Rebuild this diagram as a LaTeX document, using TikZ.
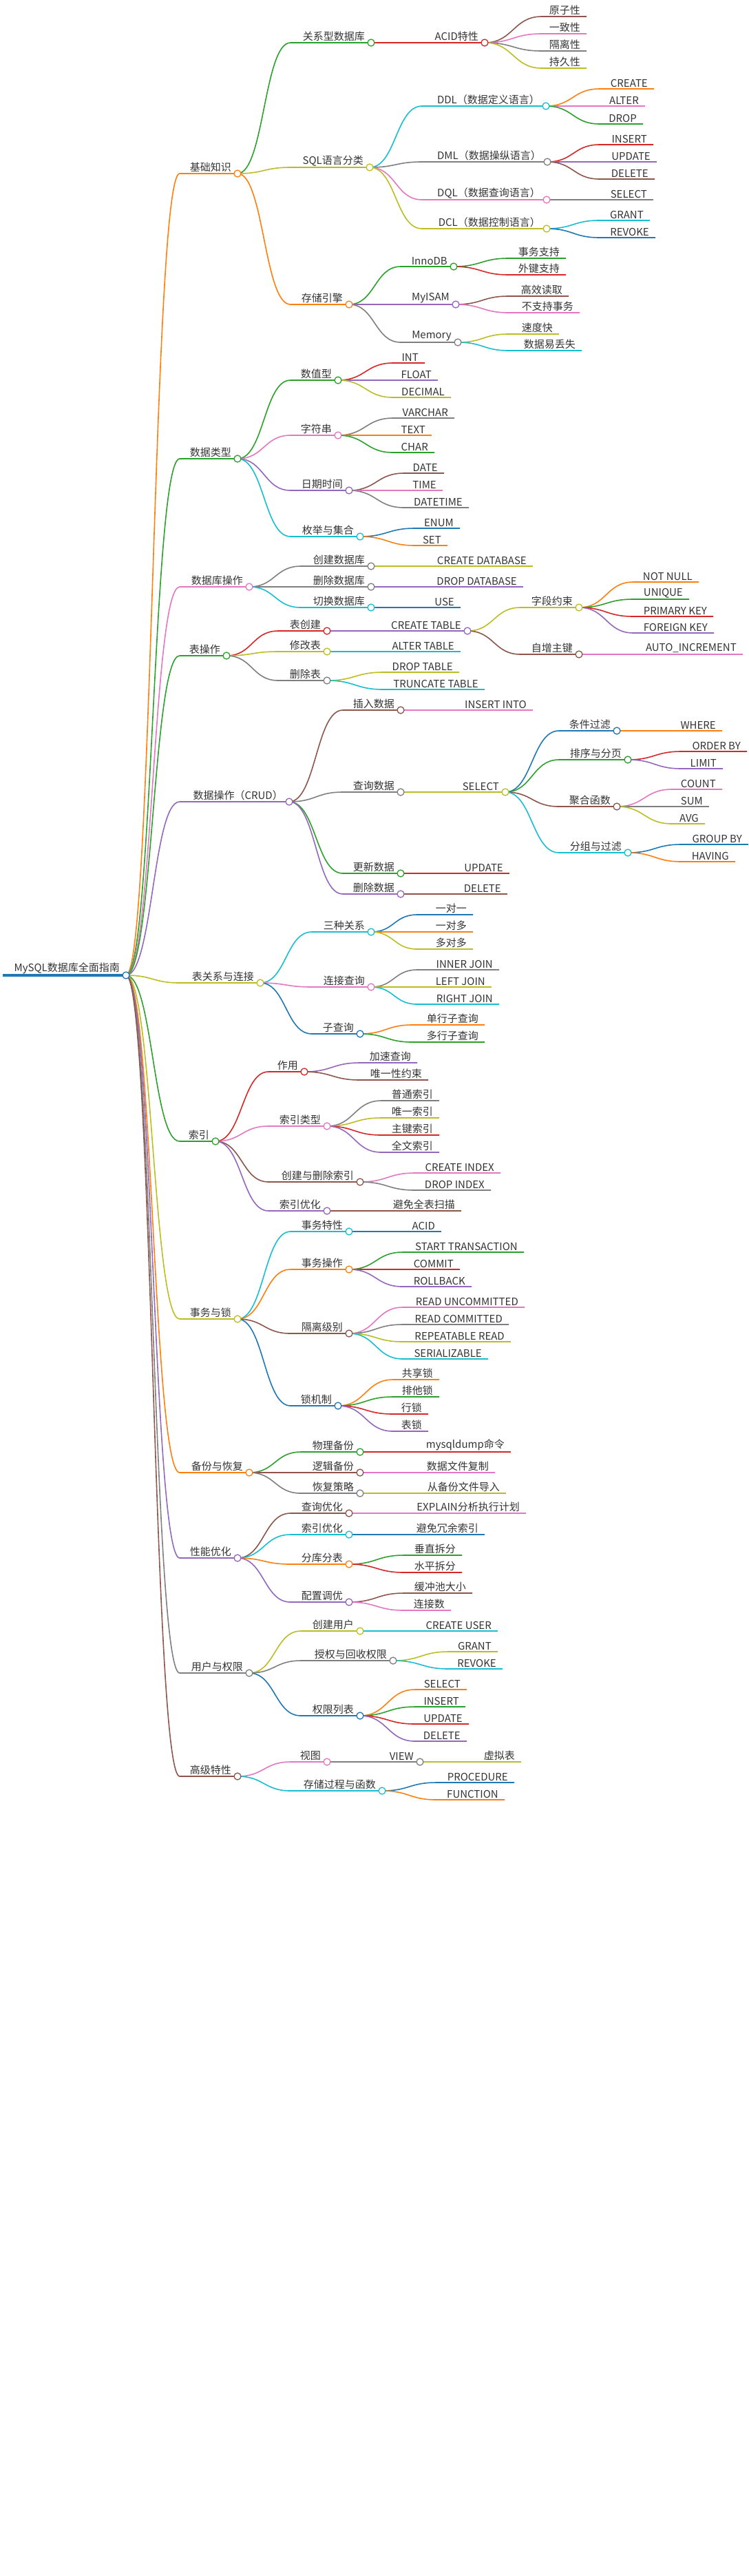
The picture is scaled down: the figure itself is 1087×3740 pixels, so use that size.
\documentclass[tikz,border=0pt]{standalone}
\usepackage{fontspec}
\setmainfont{Noto Sans CJK SC}
\usetikzlibrary{calc}
\pgfdeclarelayer{bg}\pgfsetlayers{bg,main}
\definecolor{cO}{HTML}{FF7F0E}
\definecolor{cG}{HTML}{2CA02C}
\definecolor{cR}{HTML}{D62728}
\definecolor{cP}{HTML}{9467BD}
\definecolor{cBr}{HTML}{8C564B}
\definecolor{cPk}{HTML}{E377C2}
\definecolor{cGr}{HTML}{7F7F7F}
\definecolor{cY}{HTML}{BCBD22}
\definecolor{cC}{HTML}{17BECF}
\definecolor{cB}{HTML}{1F77B4}
\definecolor{txt}{HTML}{333333}
\tikzset{
 edge/.style={line width=1.6pt},
 dot/.style={circle,fill=white,line width=1.3pt,inner sep=0pt,minimum size=10pt},
 lbl/.style={anchor=south east,inner sep=1pt,font=\fontsize{15}{17}\selectfont,text=txt}
}
\newcommand\mmedge[7]{%
 \coordinate (#1s) at (#4,#6); \coordinate (#1) at (#5,#6);
 \begin{pgfonlayer}{bg}
 \draw[edge,#3] let \p1=(#2),\p2=(#1s) in (\p1) .. controls ({0.5*\x1+0.5*\x2},\y1) and ({0.5*\x1+0.5*\x2},\y2) .. (\p2) -- (#1);
 \end{pgfonlayer}
 \node[lbl] (#1t) at ($(#1)+(-8,-1)$) {#7};}
\newcommand\bn[7]{\mmedge{#1}{#2}{#3}{#4}{#5}{#6}{#7}\node[dot,draw=#3] (#1c) at (#1) {};}
\newcommand\lf[7]{\mmedge{#1}{#2}{#3}{#4}{#5}{#6}{#7}}
\begin{document}
\begin{tikzpicture}[x=1pt,y=-1pt]
\useasboundingbox (0,0) rectangle (1087,3740);
\coordinate (root) at (183,1416);
\draw[line width=3.5pt,cB] (4,1416) -- (root);
\node[lbl] (roott) at (175,1415) {MySQL数据库全面指南};
\node[dot,draw=cB] (rootc) at (root) {};
% 基础知识
\bn{a}{root}{cO}{261}{345}{252}{基础知识}
\bn{a1}{a}{cG}{422}{539}{62}{关系型数据库}
\bn{a11}{a1}{cR}{560}{704}{62}{ACID特性}
\lf{a111}{a11}{cBr}{787}{852}{24}{原子性}
\lf{a112}{a11}{cPk}{787}{852}{49}{一致性}
\lf{a113}{a11}{cGr}{787}{852}{74}{隔离性}
\lf{a114}{a11}{cY}{787}{852}{99}{持久性}
\bn{a2}{a}{cY}{422}{537}{243}{SQL语言分类}
\bn{a21}{a2}{cC}{613}{793}{154}{DDL（数据定义语言）}
\lf{a211}{a21}{cO}{871}{950}{129}{CREATE}
\lf{a212}{a21}{cPk}{871}{937}{154}{ALTER}
\lf{a213}{a21}{cG}{871}{934}{180}{DROP}
\bn{a22}{a2}{cGr}{613}{795}{235}{DML（数据操纵语言）}
\lf{a221}{a22}{cR}{871}{949}{210}{INSERT}
\lf{a222}{a22}{cP}{871}{954}{235}{UPDATE}
\lf{a223}{a22}{cBr}{871}{951}{260}{DELETE}
\bn{a23}{a2}{cPk}{613}{794}{290}{DQL（数据查询语言）}
\lf{a231}{a23}{cGr}{871}{949}{290}{SELECT}
\bn{a24}{a2}{cY}{613}{794}{332}{DCL（数据控制语言）}
\lf{a241}{a24}{cC}{871}{944}{320}{GRANT}
\lf{a242}{a24}{cB}{871}{952}{345}{REVOKE}
\bn{a3}{a}{cO}{422}{507}{442}{存储引擎}
\bn{a31}{a3}{cG}{582}{659}{387}{InnoDB}
\lf{a311}{a31}{cG}{739}{822}{375}{事务支持}
\lf{a312}{a31}{cR}{739}{822}{399}{外键支持}
\bn{a32}{a3}{cP}{582}{662}{442}{MyISAM}
\lf{a321}{a32}{cBr}{739}{826}{430}{高效读取}
\lf{a322}{a32}{cPk}{739}{842}{454}{不支持事务}
\bn{a33}{a3}{cGr}{582}{665}{497}{Memory}
\lf{a331}{a33}{cY}{739}{812}{485}{速度快}
\lf{a332}{a33}{cC}{739}{845}{509}{数据易丢失}
% 数据类型
\bn{b}{root}{cG}{261}{345}{666}{数据类型}
\bn{b1}{b}{cG}{422}{491}{552}{数值型}
\lf{b11}{b1}{cR}{571}{617}{527}{INT}
\lf{b12}{b1}{cP}{571}{636}{552}{FLOAT}
\lf{b13}{b1}{cY}{571}{655}{577}{DECIMAL}
\bn{b2}{b}{cPk}{422}{491}{632}{字符串}
\lf{b21}{b2}{cGr}{571}{660}{607}{VARCHAR}
\lf{b22}{b2}{cO}{571}{627}{632}{TEXT}
\lf{b23}{b2}{cG}{571}{631}{657}{CHAR}
\bn{b3}{b}{cP}{422}{507}{712}{日期时间}
\lf{b31}{b3}{cBr}{587}{645}{687}{DATE}
\lf{b32}{b3}{cPk}{587}{643}{712}{TIME}
\lf{b33}{b3}{cGr}{587}{681}{737}{DATETIME}
\bn{b4}{b}{cC}{422}{523}{779}{枚举与集合}
\lf{b41}{b4}{cB}{603}{668}{767}{ENUM}
\lf{b42}{b4}{cO}{603}{650}{792}{SET}
% 数据库操作
\bn{c}{root}{cPk}{261}{362}{852}{数据库操作}
\bn{c1}{c}{cGr}{437}{539}{822}{创建数据库}
\lf{c11}{c1}{cY}{600}{774}{822}{CREATE DATABASE}
\bn{c2}{c}{cGr}{437}{539}{852}{删除数据库}
\lf{c21}{c2}{cP}{600}{760}{852}{DROP DATABASE}
\bn{c3}{c}{cC}{437}{539}{882}{切换数据库}
\lf{c31}{c3}{cB}{600}{669}{882}{USE}
% 表操作
\bn{d}{root}{cG}{261}{329}{952}{表操作}
\bn{d1}{d}{cR}{404}{475}{916}{表创建}
\bn{d11}{d1}{cP}{500}{679}{916}{CREATE TABLE}
\bn{d111}{d11}{cY}{756}{841}{882}{字段约束}
\lf{d1111}{d111}{cO}{920}{1015}{845}{NOT NULL}
\lf{d1112}{d111}{cG}{920}{1001}{870}{UNIQUE}
\lf{d1113}{d111}{cR}{920}{1036}{895}{PRIMARY KEY}
\lf{d1114}{d111}{cP}{920}{1037}{919}{FOREIGN KEY}
\bn{d112}{d11}{cBr}{756}{841}{950}{自增主键}
\lf{d1121}{d112}{cPk}{900}{1079}{950}{AUTO\_INCREMENT}
\bn{d2}{d}{cY}{404}{475}{946}{修改表}
\lf{d21}{d2}{cC}{540}{669}{946}{ALTER TABLE}
\bn{d3}{d}{cGr}{404}{475}{988}{删除表}
\lf{d31}{d3}{cY}{557}{667}{976}{DROP TABLE}
\lf{d32}{d3}{cC}{557}{704}{1001}{TRUNCATE TABLE}
% CRUD
\bn{e}{root}{cP}{261}{420}{1164}{数据操作（CRUD）}
\bn{e1}{e}{cBr}{498}{582}{1031}{插入数据}
\lf{e11}{e1}{cPk}{640}{774}{1031}{INSERT INTO}
\bn{e2}{e}{cGr}{498}{582}{1150}{查询数据}
\bn{e21}{e2}{cY}{620}{734}{1150}{SELECT}
\bn{e211}{e21}{cB}{812}{896}{1061}{条件过滤}
\lf{e2111}{e211}{cO}{950}{1049}{1061}{WHERE}
\bn{e212}{e21}{cG}{812}{912}{1103}{排序与分页}
\lf{e2121}{e212}{cR}{990}{1085}{1091}{ORDER BY}
\lf{e2122}{e212}{cP}{990}{1050}{1116}{LIMIT}
\bn{e213}{e21}{cBr}{812}{896}{1171}{聚合函数}
\lf{e2131}{e213}{cPk}{976}{1049}{1146}{COUNT}
\lf{e2132}{e213}{cGr}{976}{1030}{1171}{SUM}
\lf{e2133}{e213}{cY}{976}{1024}{1196}{AVG}
\bn{e214}{e21}{cC}{812}{912}{1238}{分组与过滤}
\lf{e2141}{e214}{cB}{990}{1087}{1226}{GROUP BY}
\lf{e2142}{e214}{cO}{990}{1068}{1251}{HAVING}
\bn{e3}{e}{cG}{498}{582}{1268}{更新数据}
\lf{e31}{e3}{cR}{640}{740}{1268}{UPDATE}
\bn{e4}{e}{cP}{498}{582}{1298}{删除数据}
\lf{e41}{e4}{cBr}{640}{737}{1298}{DELETE}
% 表关系与连接
\bn{f}{root}{cY}{261}{378}{1427}{表关系与连接}
\bn{f1}{f}{cC}{453}{539}{1353}{三种关系}
\lf{f11}{f1}{cB}{606}{687}{1328}{一对一}
\lf{f12}{f1}{cO}{606}{687}{1353}{一对多}
\lf{f13}{f1}{cY}{606}{687}{1378}{多对多}
\bn{f2}{f}{cPk}{453}{539}{1433}{连接查询}
\lf{f21}{f2}{cGr}{606}{725}{1408}{INNER JOIN}
\lf{f22}{f2}{cY}{606}{714}{1433}{LEFT JOIN}
\lf{f23}{f2}{cC}{606}{725}{1458}{RIGHT JOIN}
\bn{f3}{f}{cB}{453}{523}{1501}{子查询}
\lf{f31}{f3}{cO}{599}{704}{1488}{单行子查询}
\lf{f32}{f3}{cG}{599}{704}{1513}{多行子查询}
% 索引
\bn{g}{root}{cG}{261}{313}{1657}{索引}
\bn{g1}{g}{cR}{390}{442}{1556}{作用}
\lf{g11}{g1}{cP}{523}{606}{1543}{加速查询}
\lf{g12}{g1}{cBr}{523}{622}{1568}{唯一性约束}
\bn{g2}{g}{cPk}{390}{475}{1635}{索引类型}
\lf{g21}{g2}{cGr}{554}{638}{1598}{普通索引}
\lf{g22}{g2}{cY}{554}{638}{1623}{唯一索引}
\lf{g23}{g2}{cR}{554}{638}{1648}{主键索引}
\lf{g24}{g2}{cP}{554}{638}{1673}{全文索引}
\bn{g3}{g}{cBr}{390}{523}{1716}{创建与删除索引}
\lf{g31}{g3}{cPk}{603}{727}{1703}{CREATE INDEX}
\lf{g32}{g3}{cGr}{603}{713}{1728}{DROP INDEX}
\bn{g4}{g}{cP}{390}{475}{1758}{索引优化}
\lf{g41}{g4}{cBr}{540}{670}{1758}{避免全表扫描}
% 事务与锁
\bn{h}{root}{cY}{261}{345}{1915}{事务与锁}
\bn{h1}{h}{cC}{422}{507}{1788}{事务特性}
\lf{h11}{h1}{cB}{570}{641}{1788}{ACID}
\bn{h2}{h}{cO}{422}{507}{1843}{事务操作}
\lf{h21}{h2}{cG}{585}{761}{1818}{START TRANSACTION}
\lf{h22}{h2}{cR}{585}{668}{1843}{COMMIT}
\lf{h23}{h2}{cP}{585}{685}{1868}{ROLLBACK}
\bn{h3}{h}{cBr}{422}{507}{1936}{隔离级别}
\lf{h31}{h3}{cPk}{585}{762}{1898}{READ UNCOMMITTED}
\lf{h32}{h3}{cGr}{585}{739}{1923}{READ COMMITTED}
\lf{h33}{h3}{cY}{585}{742}{1948}{REPEATABLE READ}
\lf{h34}{h3}{cC}{585}{709}{1973}{SERIALIZABLE}
\bn{h4}{h}{cB}{422}{491}{2041}{锁机制}
\lf{h41}{h4}{cO}{571}{638}{2003}{共享锁}
\lf{h42}{h4}{cG}{571}{638}{2028}{排他锁}
\lf{h43}{h4}{cR}{571}{622}{2053}{行锁}
\lf{h44}{h4}{cP}{571}{622}{2078}{表锁}
% 备份与恢复
\bn{i}{root}{cO}{261}{362}{2138}{备份与恢复}
\bn{i1}{i}{cG}{437}{523}{2108}{物理备份}
\lf{i11}{i1}{cR}{590}{742}{2108}{mysqldump命令}
\bn{i2}{i}{cBr}{437}{523}{2138}{逻辑备份}
\lf{i21}{i2}{cPk}{590}{719}{2138}{数据文件复制}
\bn{i3}{i}{cGr}{437}{523}{2168}{恢复策略}
\lf{i31}{i3}{cY}{590}{735}{2168}{从备份文件导入}
% 性能优化
\bn{j}{root}{cP}{261}{345}{2262}{性能优化}
\bn{j1}{j}{cBr}{422}{507}{2197}{查询优化}
\lf{j11}{j1}{cPk}{570}{764}{2197}{EXPLAIN分析执行计划}
\bn{j2}{j}{cC}{422}{507}{2228}{索引优化}
\lf{j21}{j2}{cB}{570}{704}{2228}{避免冗余索引}
\bn{j3}{j}{cO}{422}{507}{2271}{分库分表}
\lf{j31}{j3}{cG}{587}{671}{2258}{垂直拆分}
\lf{j32}{j3}{cR}{587}{671}{2283}{水平拆分}
\bn{j4}{j}{cP}{422}{507}{2326}{配置调优}
\lf{j41}{j4}{cBr}{587}{686}{2313}{缓冲池大小}
\lf{j42}{j4}{cPk}{587}{655}{2338}{连接数}
% 用户与权限
\bn{k}{root}{cGr}{261}{362}{2429}{用户与权限}
\bn{k1}{k}{cY}{437}{523}{2368}{创建用户}
\lf{k11}{k1}{cC}{590}{723}{2368}{CREATE USER}
\bn{k2}{k}{cGr}{437}{571}{2411}{授权与回收权限}
\lf{k21}{k2}{cY}{652}{723}{2398}{GRANT}
\lf{k22}{k2}{cC}{652}{730}{2423}{REVOKE}
\bn{k3}{k}{cB}{437}{523}{2491}{权限列表}
\lf{k31}{k3}{cO}{603}{678}{2453}{SELECT}
\lf{k32}{k3}{cG}{603}{676}{2478}{INSERT}
\lf{k33}{k3}{cR}{603}{681}{2503}{UPDATE}
\lf{k34}{k3}{cP}{603}{678}{2528}{DELETE}
% 高级特性
\bn{l}{root}{cBr}{261}{345}{2579}{高级特性}
\bn{l1}{l}{cPk}{422}{475}{2558}{视图}
\bn{l11}{l1}{cGr}{520}{610}{2558}{VIEW}
\lf{l111}{l11}{cY}{650}{757}{2558}{虚拟表}
\bn{l2}{l}{cC}{422}{555}{2600}{存储过程与函数}
\lf{l21}{l2}{cB}{634}{747}{2588}{PROCEDURE}
\lf{l22}{l2}{cO}{634}{733}{2613}{FUNCTION}
\end{tikzpicture}
\end{document}
